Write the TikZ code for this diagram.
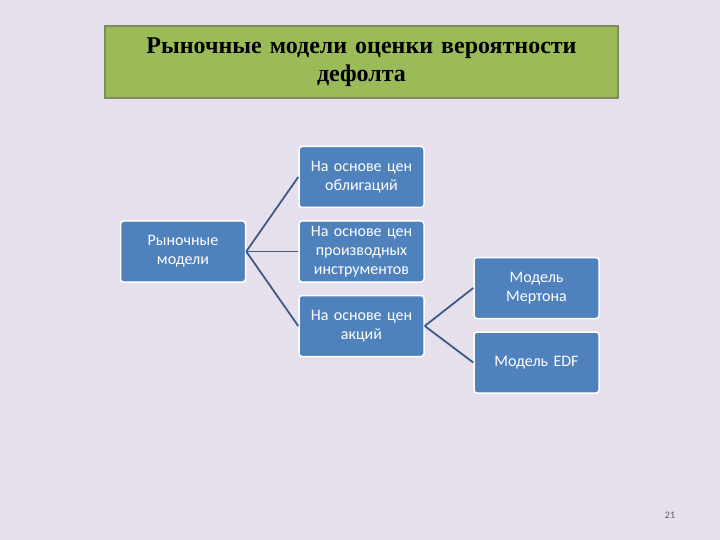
\documentclass[tikz,border=0pt]{standalone}
\usepackage{fontspec}
\setmainfont{Liberation Serif}
\newfontfamily\boxfont{Carlito}
\usetikzlibrary{positioning}
\definecolor{slidebg}{HTML}{E6E0EC}
\definecolor{titlegreen}{HTML}{9BBB59}
\definecolor{titleedge}{HTML}{7D8C62}
\definecolor{boxblue}{HTML}{4F81BD}
\definecolor{linkblue}{HTML}{3D5C8A}

\begin{document}
\begin{tikzpicture}[x=1pt, y=-1pt,
  model/.style={draw=white, line width=1.5pt, fill=boxblue, rounded corners=3pt,
    minimum width=125pt, minimum height=61pt, text width=122pt, align=center,
    inner sep=1pt, text=white, font=\boxfont\fontsize{16}{19}\selectfont},
  link/.style={draw=linkblue, line width=1.8pt},
  node distance=12pt and 52pt]
  \fill[slidebg] (0,0) rectangle (720,540);

  \node[draw=titleedge, line width=2pt, fill=titlegreen, minimum width=513pt, minimum height=72pt,
    text width=505pt, align=center, font=\bfseries\fontsize{24}{28}\selectfont]
    (title) at (361.5,62) {Рыночные модели оценки вероятности\\дефолта};

  \node[model] (market) at (183,251.5) {Рыночные\\модели};
  \node[model, right=of market] (deriv) {На основе цен\\производных\\инструментов};
  \node[model, above=of deriv] (bonds) {На основе цен\\облигаций};
  \node[model, below=of deriv] (shares) {На основе цен\\акций};

  \node[model] (merton) at (536.5,288) {Модель\\Мертона};
  \node[model, below=of merton] (edf) {Модель EDF};

  % connectors
  \draw[link] (market.east) -- (bonds.west);
  \draw[link] (market.east) -- (deriv.west);
  \draw[link] (market.east) -- (shares.west);
  \draw[link] (shares.east) -- (merton.west);
  \draw[link] (shares.east) -- (edf.west);

  \node[text=black!65, font=\boxfont\fontsize{10}{12}\selectfont] (page) at (670,515) {21};
\end{tikzpicture}
\end{document}
